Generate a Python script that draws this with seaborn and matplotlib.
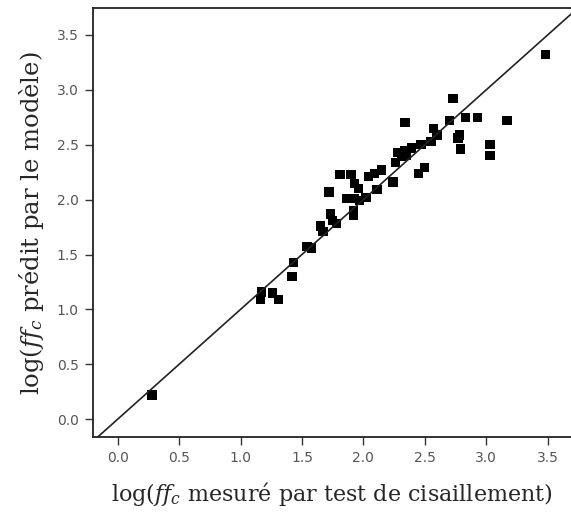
import numpy as np
import pandas as pd
import matplotlib
matplotlib.use('Agg')
import matplotlib.pyplot as plt
import seaborn as sns

# valeurs
ff_mesure = [0.28, 1.17, 1.16, 1.26, 1.31, 1.43, 1.42, 1.54, 1.58, 1.65,
             1.67, 1.73, 1.75, 1.78, 1.72, 1.81, 1.90, 1.93, 1.96, 1.86,
             1.93, 1.97, 1.92, 1.92, 2.04, 2.09, 2.15, 2.11, 2.02, 2.73,
             2.34, 2.70, 2.83, 2.93, 2.57, 2.60, 2.55, 2.47, 2.39, 2.34,
             2.28, 2.31, 2.35, 2.26, 2.24, 2.50, 2.45, 2.78, 2.77, 2.79,
             3.03, 3.03, 3.48, 3.17]
ff_predit = [0.22, 1.16, 1.09, 1.15, 1.09, 1.43, 1.30, 1.57, 1.56, 1.76,
             1.71, 1.87, 1.81, 1.78, 2.07, 2.23, 2.23, 2.15, 2.10, 2.01,
             2.01, 1.99, 1.90, 1.86, 2.21, 2.24, 2.27, 2.09, 2.02, 2.92,
             2.70, 2.72, 2.75, 2.75, 2.65, 2.59, 2.53, 2.50, 2.47, 2.45,
             2.43, 2.39, 2.40, 2.34, 2.16, 2.29, 2.24, 2.59, 2.56, 2.46,
             2.50, 2.40, 3.32, 2.72]
ticks = [0.0, 0.5, 1.0, 1.5, 2.0, 2.5, 3.0, 3.5]

df = pd.DataFrame({'mesure': ff_mesure, 'predit': ff_predit})

sns.set_style('white')
plt.rcParams['mathtext.fontset'] = 'dejavuserif'

fig = plt.figure(figsize=(5.71, 5.18), dpi=100)
ax = fig.add_axes([0.162, 0.156, 0.838, 0.828])

sns.scatterplot(data=df, x='mesure', y='predit', marker='s', color='black',
                s=45, edgecolor='none', ax=ax)
ax.axline((0, 0), slope=1, color='#222222', lw=1.2)

ax.set_xlim(-0.205, 3.69)
ax.set_ylim(-0.164, 3.743)
ax.set_xticks(ticks)
ax.set_yticks(ticks)
ax.set_xticklabels(['%.1f' % t for t in ticks])
ax.set_yticklabels(['%.1f' % t for t in ticks])
ax.tick_params(direction='out', length=6, width=1, color='#333333',
               labelsize=10, labelcolor='#555555', pad=4,
               bottom=True, left=True)
for lab in ax.get_xticklabels() + ax.get_yticklabels():
    lab.set_family('DejaVu Sans')

for sp in ['left', 'bottom', 'top']:
    ax.spines[sp].set_color('#222222')
    ax.spines[sp].set_linewidth(1.3)
ax.spines['right'].set_visible(False)

ax.set_xlabel('log($ff_c$ mesuré par test de cisaillement)',
              family='DejaVu Serif', fontsize=16, labelpad=11)
ax.set_ylabel('log($ff_c$ prédit par le modèle)',
              family='DejaVu Serif', fontsize=17.5, labelpad=8)

fig.savefig('out.png', dpi=100)
